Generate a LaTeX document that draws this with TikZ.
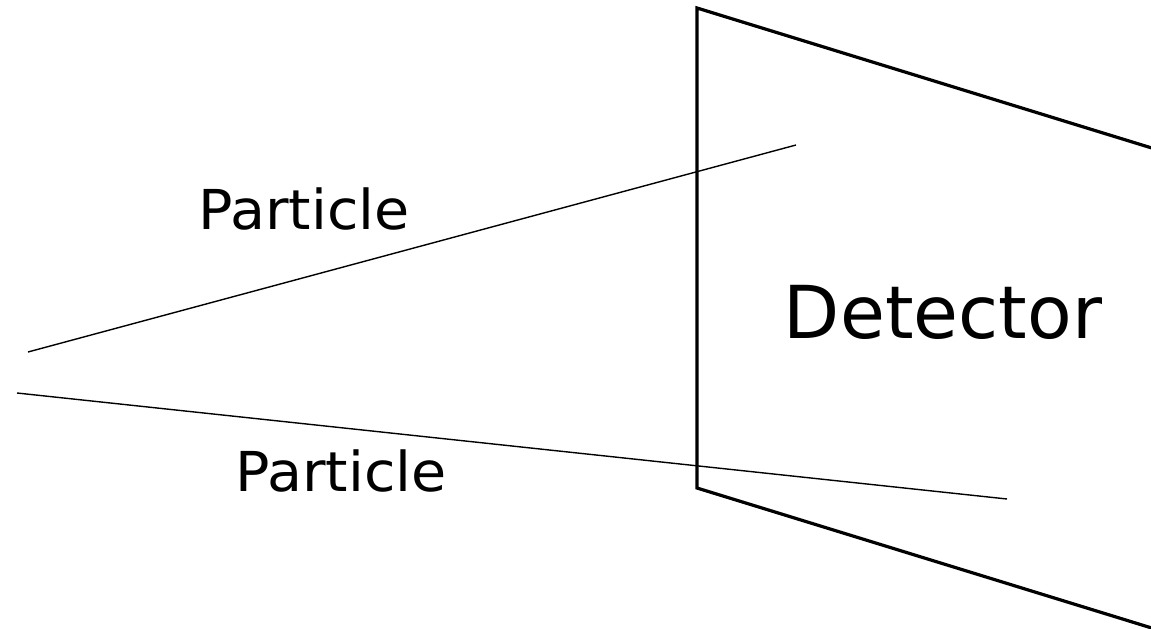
\documentclass[tikz,border=0pt]{standalone}
\usepackage{fontspec}
\setmainfont{DejaVu Sans}
\begin{document}
\begin{tikzpicture}[x=1pt,y=-1pt,
  frame/.style={line width=3.2pt,line join=miter},
  track/.style={line width=1.4pt},
  lbl/.style={anchor=base,inner sep=0pt,xscale=1.04,font=\fontsize{55}{60}\selectfont},
  biglbl/.style={anchor=base,inner sep=0pt,font=\fontsize{73}{80}\selectfont}]
\useasboundingbox (0,0) rectangle (1151,629);
\coordinate (tl) at (697,8);
\coordinate (bl) at (697,488);
\coordinate (tr) at (1155,149);
\coordinate (br) at (1155,629);
\draw[frame] (tr) -- (tl) -- (bl) -- (br);
\coordinate (p1s) at (28,352);
\coordinate (p1e) at (796,145);
\coordinate (p2s) at (17,393);
\coordinate (p2e) at (1007,499);
\draw[track] (p1s) -- (p1e);
\draw[track] (p2s) -- (p2e);
\node[lbl] (l1) at (304,229) {Particle};
\node[lbl] (l2) at (341,491) {Particle};
\node[biglbl] (det) at (943,338) {Detector};
\end{tikzpicture}
\end{document}
